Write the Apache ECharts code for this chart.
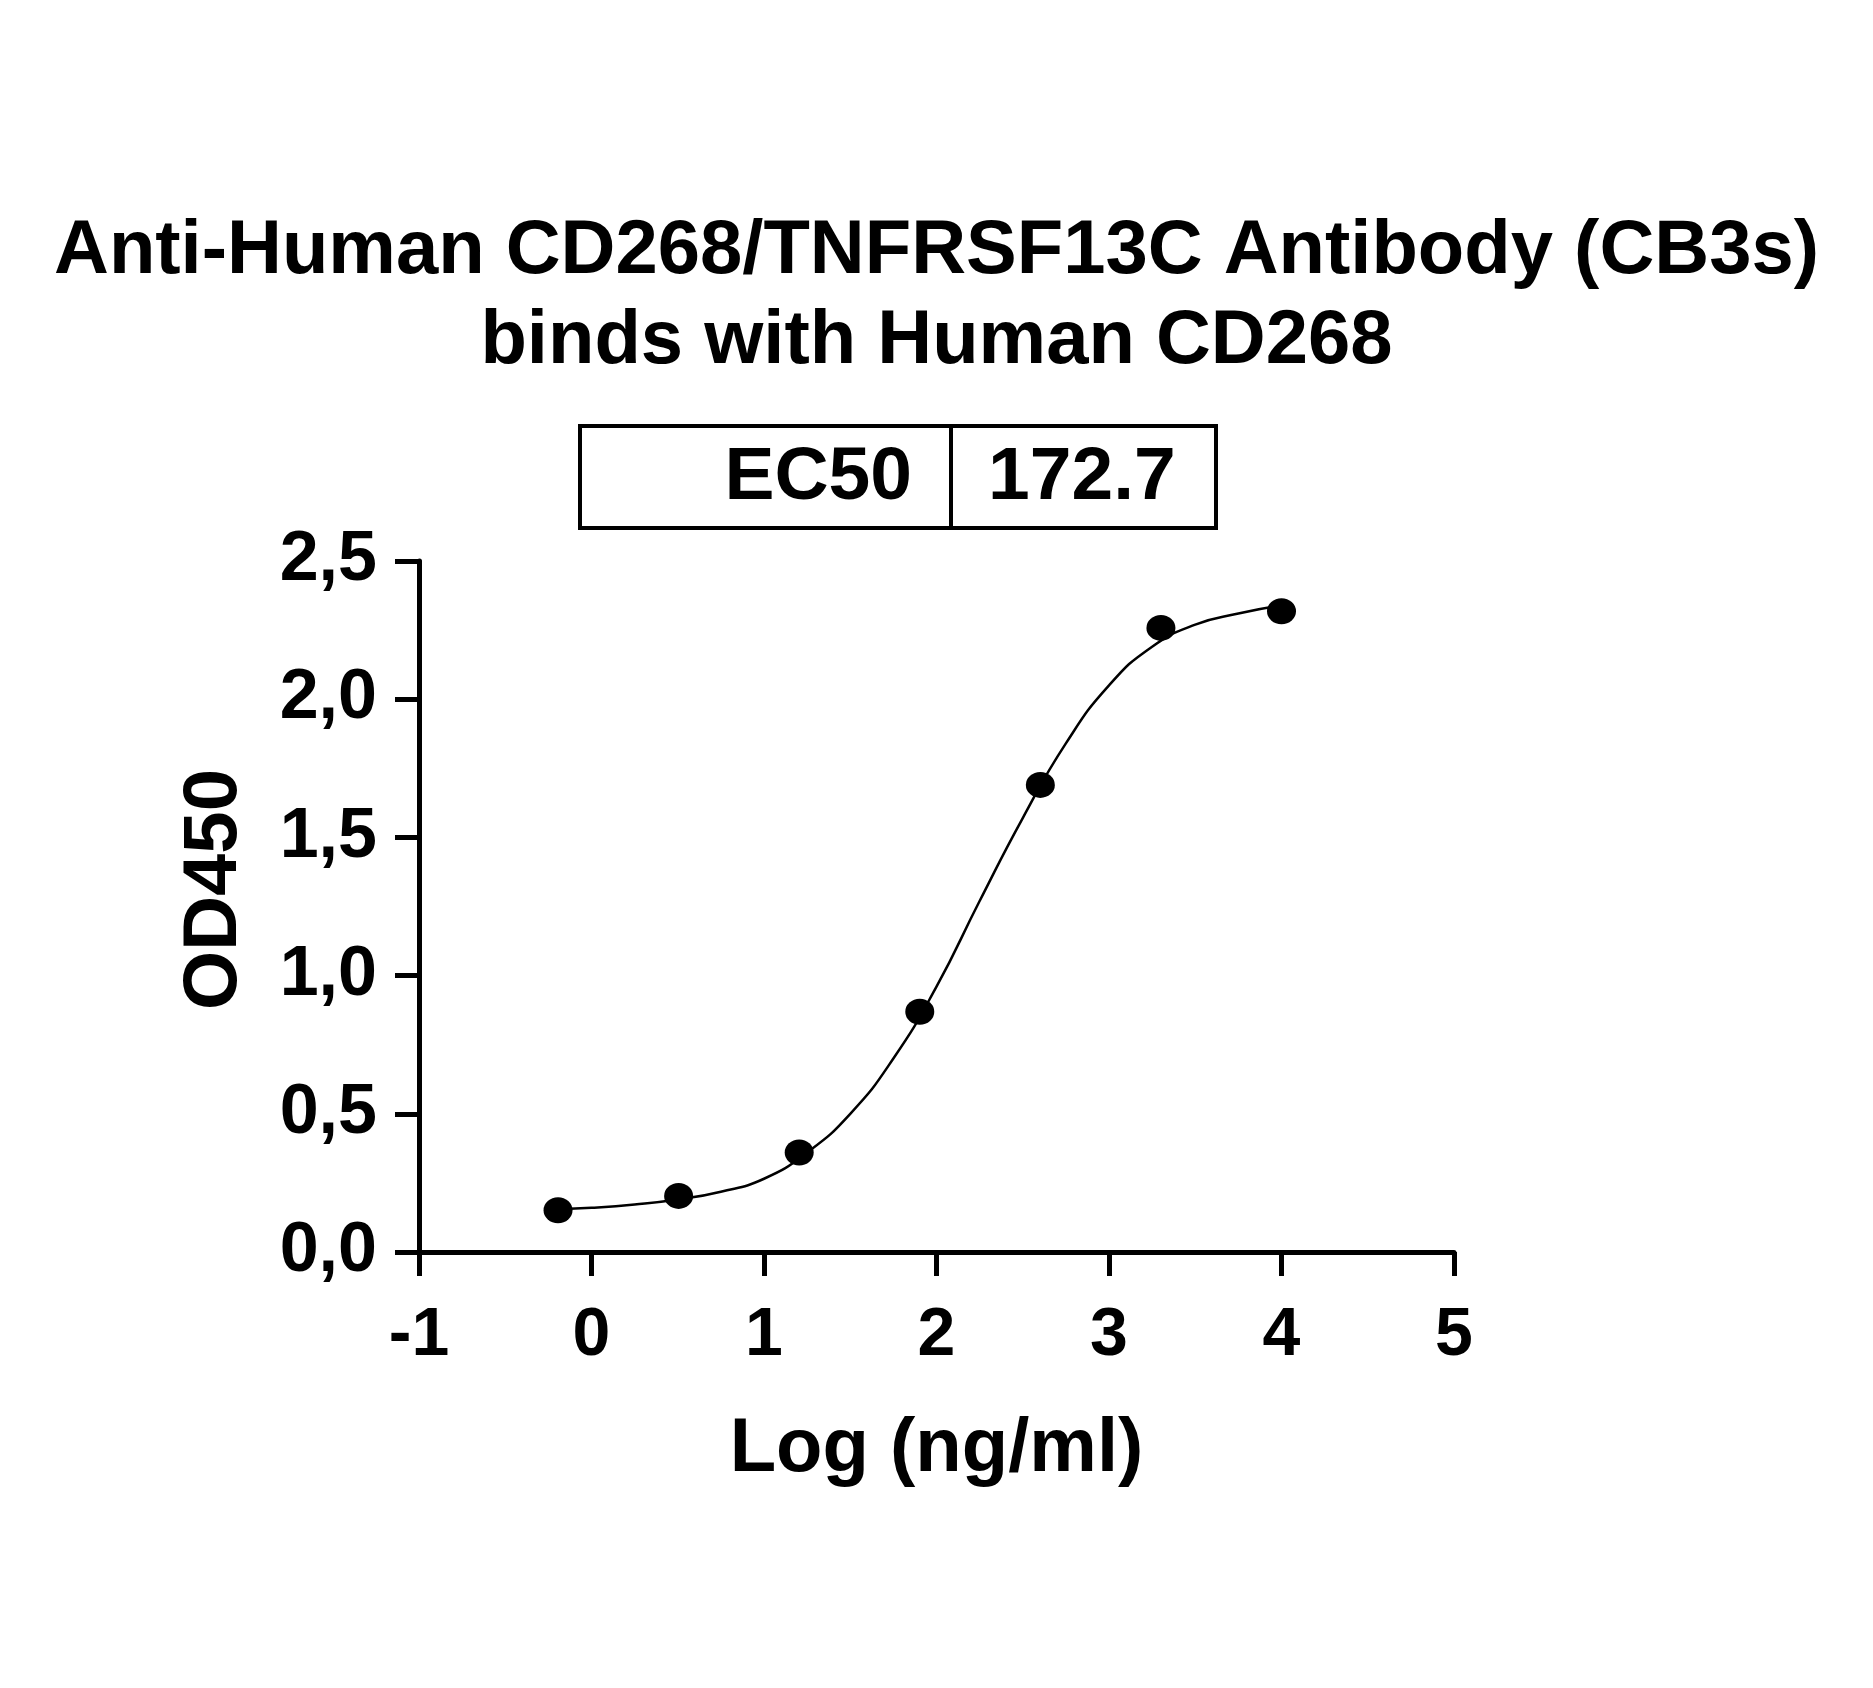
<!DOCTYPE html>
<html>
<head>
<meta charset="utf-8">
<script src="https://cdn.jsdelivr.net/npm/echarts@6/dist/echarts.min.js"></script>
<style>
html,body{margin:0;padding:0;background:#ffffff;}
#chart{width:1873px;height:1688px;}
</style>
</head>
<body>
<div id="chart"></div>
<script>
// ---- data ----
const titleLines = ['Anti-Human CD268/TNFRSF13C Antibody (CB3s)', 'binds with Human CD268'];
const ec50Label = 'EC50';
const ec50Value = '172.7';
const xAxisName = 'Log (ng/ml)';
const yAxisName = 'OD450';
const xTickLabels = ['-1', '0', '1', '2', '3', '4', '5'];
const yTickLabels = ['0,0', '0,5', '1,0', '1,5', '2,0', '2,5'];

// measured points (log concentration, OD450)
const logConc = [-0.194, 0.505, 1.204, 1.903, 2.602, 3.301, 4.0];
const od450 = [0.151, 0.203, 0.36, 0.869, 1.69, 2.258, 2.318];

// fitted curve
const curveX = [-0.19, 0, 0.25, 0.5, 0.75, 1.0, 1.25, 1.5, 1.75, 2.0, 2.25, 2.5, 2.75, 3.0, 3.25, 3.5, 3.75, 4.0];
const curveY = [0.155, 0.16, 0.172, 0.19, 0.218, 0.265, 0.36, 0.50, 0.70, 0.96, 1.27, 1.57, 1.84, 2.05, 2.19, 2.27, 2.31, 2.34];

const FONT = "'Liberation Sans', Arial, Helvetica, sans-serif";

const chart = echarts.init(document.getElementById('chart'), null, {renderer: 'canvas'});

const option = {
  backgroundColor: '#ffffff',
  animation: false,
  title: {
    text: titleLines.join('\n'),
    left: 'center',
    top: 202,
    textStyle: {
      fontFamily: FONT, fontWeight: 'bold', fontSize: 76, lineHeight: 90, color: '#000'
    }
  },
  grid: {left: 419, right: 419, top: 561, bottom: 436, containLabel: false},
  xAxis: {
    type: 'value',
    min: -1, max: 5, interval: 1,
    name: xAxisName,
    nameLocation: 'middle',
    nameGap: 160,
    nameTextStyle: {fontFamily: FONT, fontWeight: 'bold', fontSize: 76, color: '#000'},
    axisLine: {show: true, onZero: false, lineStyle: {color: '#000', width: 5}},
    axisTick: {show: true, length: 24, lineStyle: {color: '#000', width: 5}},
    axisLabel: {
      show: true, margin: 50, showMinLabel: true, showMaxLabel: true,
      fontFamily: FONT, fontWeight: 'bold', fontSize: 68, color: '#000',
      formatter: function (v) { return xTickLabels[Math.round(v + 1)]; }
    },
    splitLine: {show: false}
  },
  yAxis: {
    type: 'value',
    min: 0, max: 2.5, interval: 0.5,
    name: yAxisName,
    nameLocation: 'middle',
    nameGap: 166,
    nameRotate: 90,
    nameTextStyle: {fontFamily: FONT, fontWeight: 'bold', fontSize: 76, color: '#000', padding: [0, 0, 0, 34]},
    axisLine: {show: true, onZero: false, lineStyle: {color: '#000', width: 5}},
    axisTick: {show: true, length: 24, lineStyle: {color: '#000', width: 5}},
    axisLabel: {
      show: true, margin: 42, showMinLabel: true, showMaxLabel: true,
      fontFamily: FONT, fontWeight: 'bold', fontSize: 70, color: '#000',
      formatter: function (v) { return yTickLabels[Math.round(v / 0.5)]; }
    },
    splitLine: {show: false}
  },
  graphic: [
    {
      type: 'rect',
      shape: {x: 580, y: 426, width: 636, height: 102},
      style: {fill: '#fff', stroke: '#000', lineWidth: 4}
    },
    {
      type: 'line',
      shape: {x1: 951, y1: 426, x2: 951, y2: 528},
      style: {stroke: '#000', lineWidth: 4}
    },
    {
      type: 'text',
      x: 912, y: 478,
      style: {text: ec50Label, fill: '#000', font: "bold 75px " + FONT, align: 'right', verticalAlign: 'middle'}
    },
    {
      type: 'text',
      x: 988, y: 478,
      style: {text: ec50Value, fill: '#000', font: "bold 75px " + FONT, align: 'left', verticalAlign: 'middle'}
    }
  ],
  series: [
    {
      type: 'line',
      data: curveX.map(function (x, i) { return [x, curveY[i]]; }),
      smooth: true,
      showSymbol: false,
      symbol: 'none',
      lineStyle: {color: '#000', width: 2.5},
      z: 2
    },
    {
      type: 'scatter',
      data: logConc.map(function (x, i) { return [x, od450[i]]; }),
      symbol: 'circle',
      symbolSize: [29, 26],
      itemStyle: {color: '#000', opacity: 1},
      z: 3
    }
  ]
};
chart.setOption(option);
</script>
</body>
</html>
